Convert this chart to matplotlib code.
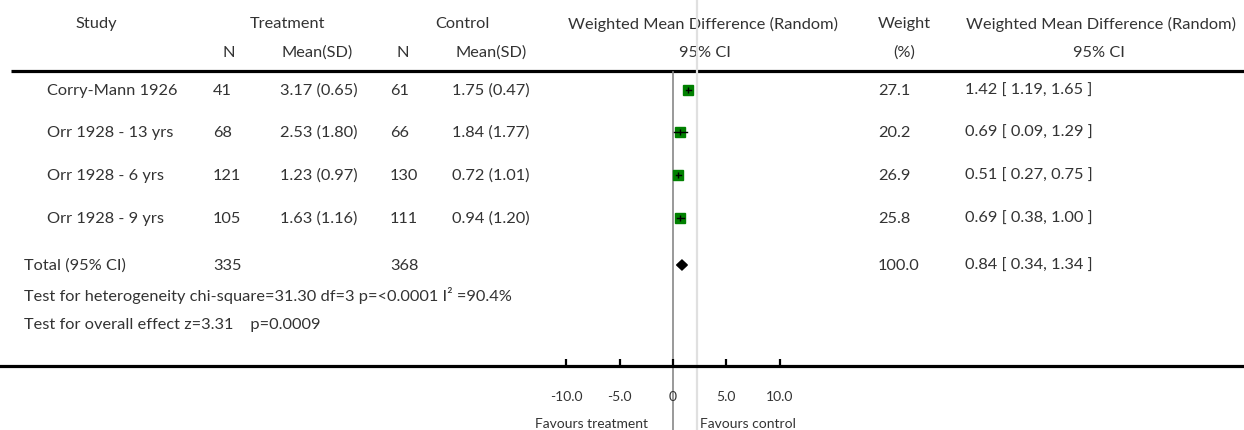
import matplotlib.pyplot as plt
import numpy as np

plt.rcParams['font.family'] = ['Lato', 'DejaVu Sans']

# study data
studies = ["Corry-Mann 1926", "Orr 1928 - 13 yrs", "Orr 1928 - 6 yrs", "Orr 1928 - 9 yrs"]
treat_n = [41, 68, 121, 105]
treat_mean = [3.17, 2.53, 1.23, 1.63]
treat_sd = [0.65, 1.80, 0.97, 1.16]
ctrl_n = [61, 66, 130, 111]
ctrl_mean = [1.75, 1.84, 0.72, 0.94]
ctrl_sd = [0.47, 1.77, 1.01, 1.20]
weights = [27.1, 20.2, 26.9, 25.8]
wmd = [1.42, 0.69, 0.51, 0.69]
wmd_lo = [1.19, 0.09, 0.27, 0.38]
wmd_hi = [1.65, 1.29, 0.75, 1.00]

# pooled result
total_label = "Total (95% CI)"
total_treat_n = 335
total_ctrl_n = 368
total_weight = 100.0
total_wmd = 0.84
total_lo = 0.34
total_hi = 1.34
het_text = "Test for heterogeneity chi-square=31.30 df=3 p=<0.0001 I² =90.4%"
effect_text = "Test for overall effect z=3.31    p=0.0009"

ticks = [-10, -5, 0, 5, 10]
tick_labels = ["-10.0", "-5.0", "0", "5.0", "10.0"]
ref_line = 2.25

W, H = 1244, 431
TXT = '#333333'
FS = 11.8

fig = plt.figure(figsize=(W / 100, H / 100), dpi=100)

# text layer in pixel coordinates
tax = fig.add_axes([0, 0, 1, 1])
tax.set_xlim(0, W)
tax.set_ylim(H, 0)
tax.axis('off')

# forest plot layer, axis line at y=367
axis_y = 367
fax = fig.add_axes([0, (H - axis_y) / H, 1, axis_y / H])
px_per_unit = 10.67
zero_px = 673
fax.set_xlim(-zero_px / px_per_unit, (W - zero_px) / px_per_unit)
fax.set_ylim(axis_y, 0)
fax.patch.set_alpha(0)
for s in ['top', 'left', 'right']:
    fax.spines[s].set_visible(False)
fax.spines['bottom'].set_linewidth(2.3)
fax.set_yticks([])
fax.set_xticks(ticks, tick_labels)
fax.tick_params(axis='x', direction='in', length=5, width=1.6, pad=17,
                labelsize=10, labelcolor=TXT)

# header
def t(x, y, s, ha='left', **kw):
    tax.text(x, y, s, ha=ha, va='center', fontsize=kw.pop('fontsize', FS),
             color=TXT, **kw)

t(96, 24, "Study", ha='center')
t(287, 24, "Treatment", ha='center')
t(462, 24, "Control", ha='center')
t(229, 53, "N", ha='center')
t(317, 53, "Mean(SD)", ha='center')
t(403, 53, "N", ha='center')
t(491, 53, "Mean(SD)", ha='center')
t(703, 24, "Weighted Mean Difference (Random)", ha='center')
t(705, 53, "95% CI", ha='center')
t(904, 24, "Weight", ha='center')
t(904, 53, "(%)", ha='center')
t(1101, 24, "Weighted Mean Difference (Random)", ha='center')
t(1099, 53, "95% CI", ha='center')
tax.plot([11, W], [72, 72], color='black', lw=2.3, solid_capstyle='butt')

# rows
row_y = [91, 133, 176, 219]
for i, y in enumerate(row_y):
    t(47, y, studies[i])
    t(213, y, str(treat_n[i]))
    t(280, y, f"{treat_mean[i]:.2f} ({treat_sd[i]:.2f})")
    t(390, y, str(ctrl_n[i]))
    t(452, y, f"{ctrl_mean[i]:.2f} ({ctrl_sd[i]:.2f})")
    t(878, y, f"{weights[i]:.1f}")
    t(965, y, f"{wmd[i]:.2f} [ {wmd_lo[i]:.2f}, {wmd_hi[i]:.2f} ]")

total_y = 266
t(24, total_y, total_label)
t(213, total_y, str(total_treat_n))
t(390, total_y, str(total_ctrl_n))
t(878, total_y, f"{total_weight:.1f}")
t(965, total_y, f"{total_wmd:.2f} [ {total_lo:.2f}, {total_hi:.2f} ]")
t(24, 296, het_text)
t(24, 325, effect_text)

# reference lines
fax.plot([0, 0], [73, H], color='#888888', lw=1.2, clip_on=False, zorder=1)
fax.plot([ref_line, ref_line], [0, H], color='#e0e0e0', lw=1.6, clip_on=False, zorder=0)

# study boxes and CIs
box_px = 11
for i, y in enumerate(row_y):
    ms = box_px / 1.389 * np.sqrt(weights[i] / max(weights))
    fax.plot(wmd[i], y, marker='s', ms=ms, color='#008000', mec='#008000', zorder=3)
    fax.plot([wmd_lo[i], wmd_hi[i]], [y, y], color='black', lw=1, zorder=4)
    fax.plot(wmd[i], y, marker='|', ms=4, mew=1, color='black', zorder=4)

# pooled diamond
dh = 5
fax.fill([total_lo, total_wmd, total_hi, total_wmd],
         [total_y, total_y - dh, total_y, total_y + dh], color='black', zorder=3)

t(648, 424, "Favours treatment", ha='right', fontsize=10)
t(700, 424, "Favours control", fontsize=10)

fig.savefig('out.png', dpi=100)
